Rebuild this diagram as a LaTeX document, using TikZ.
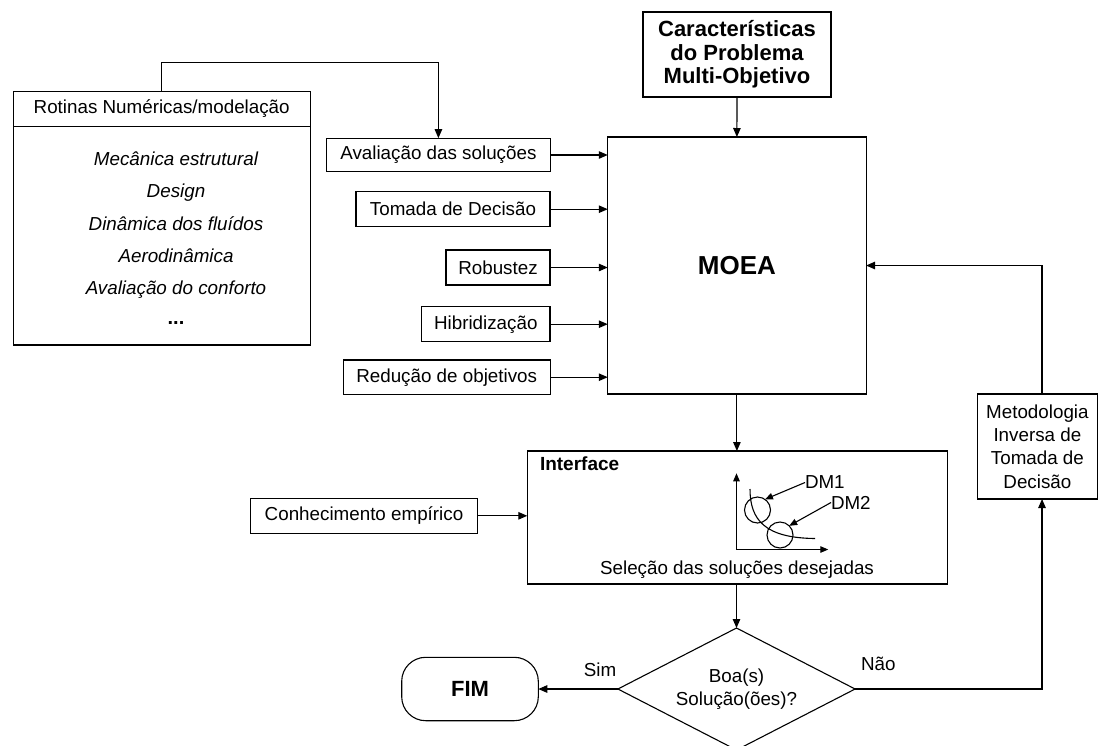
\documentclass[tikz,border=0pt]{standalone}
\usepackage{fontspec}
\setmainfont{Liberation Sans}
\usetikzlibrary{shapes.geometric,arrows.meta}
\begin{document}
\begin{tikzpicture}[x=1pt,y=-1pt,
  every node/.style={inner sep=0pt, outer sep=0pt},
  ln/.style={line width=1.1pt},
  rfont/.style={font=\fontsize{18.8}{23.3}\selectfont},
  box/.style={draw, ln, align=center, rfont},
  arr/.style={ln, -{Triangle[length=9pt,width=7.5pt]}},
  sarr/.style={ln, -{Triangle[length=8pt,width=6.5pt]}}]
\useasboundingbox (0,0) rectangle (1099,745);

% top characteristics box
\node[box, minimum width=188pt, minimum height=85pt,
      font=\bfseries\fontsize{22}{23.3}\selectfont] (carac) at (737,54.5)
      {Características\\do Problema\\Multi-Objetivo};

% MOEA
\node[box, minimum width=258.3pt, minimum height=257pt,
      font=\bfseries\fontsize{26}{30}\selectfont] (moea) at (736.9,265.5) {MOEA};

% Rotinas
\node[box, minimum width=296.7pt, minimum height=34.8pt] (rothead) at (161.7,109) {Rotinas Numéricas/modelação};
\node[draw, ln, minimum width=296.7pt, minimum height=218.5pt] (rotbody) at (161.7,235.75) {};
\foreach \t/\yy [count=\i] in {Mecânica estrutural/165.5, Design/197.7, Dinâmica dos fluídos/230, Aerodinâmica/262.7, Avaliação do conforto/294.3}
  \node[rfont, font=\itshape\fontsize{18.8}{23.3}\selectfont, anchor=base] (rl\i) at (176,\yy) {\t};
\node[font=\bfseries\fontsize{20}{23.3}\selectfont, anchor=base] (rl6) at (176,324) {...};

% side boxes
\node[box, minimum width=223.3pt, minimum height=33.7pt] (aval) at (438.4,155) {Avaliação das soluções};
\node[box, minimum width=194pt, minimum height=35pt] (tomada) at (453,209.2) {Tomada de Decisão};
\node[box, minimum width=104pt, minimum height=35pt] (robust) at (498,267.5) {Robustez};
\node[box, minimum width=128.3pt, minimum height=35pt] (hibrid) at (485.8,324.2) {Hibridização};
\node[box, minimum width=206.7pt, minimum height=34.5pt] (reduc) at (446.7,377.2) {Redução de objetivos};

% interface
\node[draw, ln, minimum width=420.4pt, minimum height=133pt] (iface) at (737.5,517.5) {};
\node[font=\bfseries\fontsize{19}{22}\selectfont, anchor=west] (ilabel) at (540,463.3) {Interface};
\node[rfont, anchor=base] (isel) at (737,574) {Seleção das soluções desejadas};

% graph inside interface
\coordinate (go) at (736.5,549.5);
\coordinate (gy) at (736.5,473.3);
\coordinate (gx) at (828.3,549.5);
\draw[sarr] (go) -- (gy);
\draw[sarr] (go) -- (gx);
\node[draw, ln, circle, minimum size=26pt] (c1) at (757.5,510) {};
\node[draw, ln, circle, minimum size=26pt] (c2) at (780,535) {};
\draw[ln] (750,489) .. controls (750,520) and (765,538) .. (815,538.5);
\node[rfont, anchor=west] (dm1) at (805,482.5) {DM1};
\node[rfont, anchor=west] (dm2) at (831,502.5) {DM2};
\draw[sarr] (dm1.west) -- (c1.55);
\draw[sarr] (dm2.west) -- (c2.45);

% conhecimento
\node[box, minimum width=226.6pt, minimum height=35pt] (conhec) at (364,515.8) {Conhecimento empírico};

% decision
\node[draw, ln, diamond, shape aspect=2, minimum width=237.2pt, minimum height=122pt,
      align=center, rfont] (dec) at (736.5,689) {Boa(s)\\Solução(ões)?};

% FIM
\node[draw, ln, rounded corners=24pt, minimum width=136.6pt, minimum height=63.4pt,
      font=\bfseries\fontsize{22}{26}\selectfont] (fim) at (470,689) {FIM};

% Metodologia
\node[box, minimum width=119.3pt, minimum height=105pt] (meto) at (1037.4,446.5)
      {Metodologia\\Inversa de\\Tomada de\\Decisão};

% labels
\node[rfont] (lsim) at (600,670) {Sim};
\node[rfont] (lnao) at (878.3,664) {Não};

% connectors
\draw[arr] (carac.south) -- (moea.north);
\coordinate (tc) at (161.7,62.7);
\draw[arr] (rothead.north) -- (tc) -| (aval.north);
\draw[arr] (aval.east) -- (aval.east -| moea.west);
\draw[arr] (tomada.east) -- (tomada.east -| moea.west);
\draw[arr] (robust.east) -- (robust.east -| moea.west);
\draw[arr] (hibrid.east) -- (hibrid.east -| moea.west);
\draw[arr] (reduc.east) -- (reduc.east -| moea.west);
\draw[arr] (moea.south) -- (iface.north -| moea.south);
\draw[arr] (conhec.east) -- (conhec.east -| iface.west);
\draw[arr] (dec.north |- iface.south) -- (dec.north);
\draw[arr] (dec.west) -- (fim.east |- dec.west);
\coordinate (mx) at (1042,0);
\draw[arr] (dec.east) -| (mx |- meto.south);
\draw[arr] (mx |- meto.north) |- (moea.east);
\end{tikzpicture}
\end{document}
